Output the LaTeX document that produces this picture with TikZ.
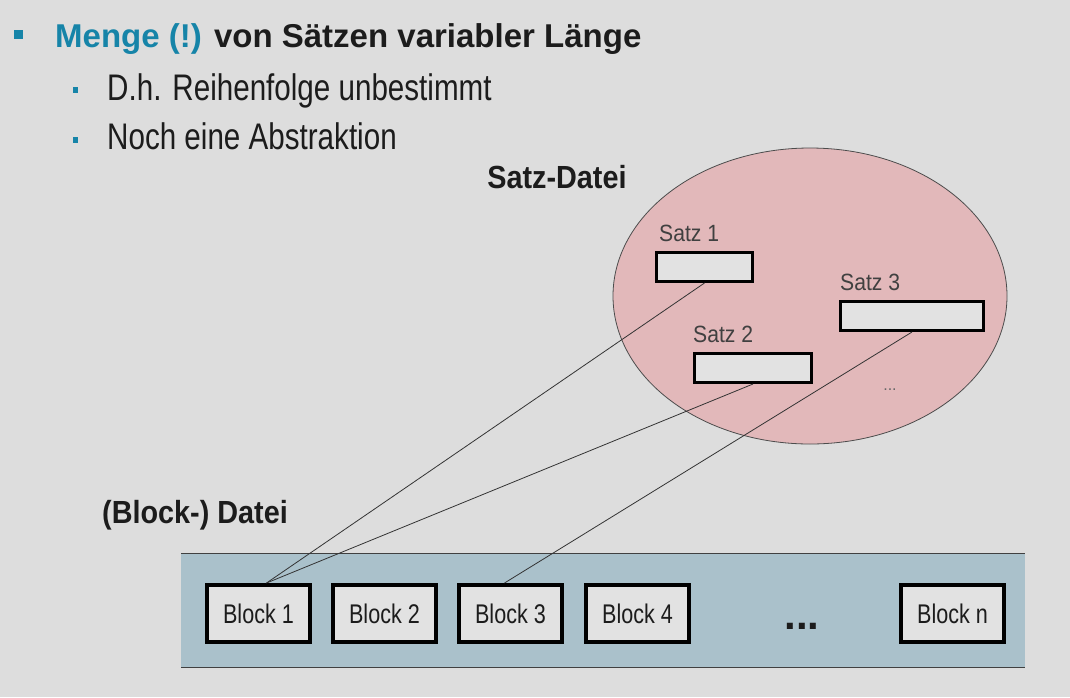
\documentclass[tikz,border=0pt]{standalone}
\usepackage{fontspec}
\setmainfont{Liberation Sans}
\newfontfamily\narrowfont{Liberation Sans}[FakeStretch=0.8]
\newfontfamily\capfont{Liberation Sans}[FakeStretch=0.9]
\definecolor{slidebg}{RGB}{221,221,221}
\definecolor{teal}{RGB}{22,132,168}
\definecolor{setfill}{RGB}{226,184,186}
\definecolor{bandfill}{RGB}{170,193,203}
\definecolor{boxfill}{RGB}{226,226,226}
\definecolor{ink}{RGB}{28,28,28}
\begin{document}
\begin{tikzpicture}[x=1pt,y=-1pt,
  headline/.style={anchor=base west,inner sep=0pt,text=ink,font=\fontsize{33}{40}\selectfont\bfseries},
  subline/.style={anchor=base west,inner sep=0pt,text=ink,font=\narrowfont\fontsize{37}{44}\selectfont},
  caption/.style={anchor=base,inner sep=0pt,text=ink,font=\capfont\fontsize{32}{38}\selectfont\bfseries},
  satz/.style={draw=black,line width=3pt,fill=boxfill,anchor=north west,inner sep=0pt,minimum height=29},
  satzlabel/.style={anchor=base west,inner sep=0pt,text=black!75,font=\capfont\fontsize{23.5}{28}\selectfont},
  block/.style={draw=black,line width=4pt,fill=boxfill,anchor=north west,inner sep=0pt,minimum width=103,minimum height=57,text=ink,font=\narrowfont\fontsize{27}{32}\selectfont},
  link/.style={black!80,line width=0.8pt}]
\useasboundingbox (0,0) rectangle (1070,697);
\fill[slidebg] (0,0) rectangle (1070,697);
\def\bandT{553}
\def\bandB{667}

% bullets and text
\fill[teal] (14,30) rectangle (23,39);
\fill[teal] (73,87) rectangle (78,93);
\fill[teal] (73,137) rectangle (78,143);
\node[headline] (title) at (55,47) {\textcolor{teal}{Menge (!)} von Sätzen variabler Länge};
\node[subline] (sub1) at (107,100) {D.h. Reihenfolge unbestimmt};
\node[subline] (sub2) at (107,149) {Noch eine Abstraktion};

% Satz-Datei
\node[caption] (satzdatei) at (557,188) {Satz-Datei};
\draw[fill=setfill,draw=black!70,line width=0.8pt] (810,296) ellipse (197 and 148);
\node[satz,minimum width=96] (satz1) at (655,251) {};
\node[satz,minimum width=143] (satz3) at (839,300) {};
\node[satz,minimum width=117] (satz2) at (693,352) {};
\node[satzlabel] (satz1L) at ([xshift=4,yshift=10]satz1.north west) {Satz 1};
\node[satzlabel] (satz3L) at ([xshift=1,yshift=10]satz3.north west) {Satz 3};
\node[satzlabel] (satz2L) at ([xshift=0,yshift=10]satz2.north west) {Satz 2};
\node[anchor=base,text=black!60,font=\fontsize{16}{18}\selectfont] (satzdots) at (890,390) {...};

% (Block-) Datei
\node[caption,anchor=base west] (blockdatei) at (102,523) {(Block-) Datei};
\fill[bandfill] (181,\bandT) rectangle (1025,\bandB);
\draw[black!75,line width=1pt] (181,\bandT) -- (1025,\bandT);
\draw[black!75,line width=1pt] (181,\bandB) -- (1025,\bandB);
\node[block] (block1) at (205,583) {Block 1};
\node[block] (block2) at (331,583) {Block 2};
\node[block] (block3) at (457,583) {Block 3};
\node[block] (block4) at (584,583) {Block 4};
\node[anchor=base,text=ink,font=\fontsize{42}{48}\selectfont\bfseries] (blockdots) at (802,629) {...};
\node[block] (blockn) at (899,583) {Block n};

% Verweise
\draw[link] (satz1.south) -- ([xshift=8]block1.north);
\draw[link] (satz2.south) -- ([xshift=8]block1.north);
\draw[link] (satz3.south) -- ([xshift=-6]block3.north);
\end{tikzpicture}
\end{document}
